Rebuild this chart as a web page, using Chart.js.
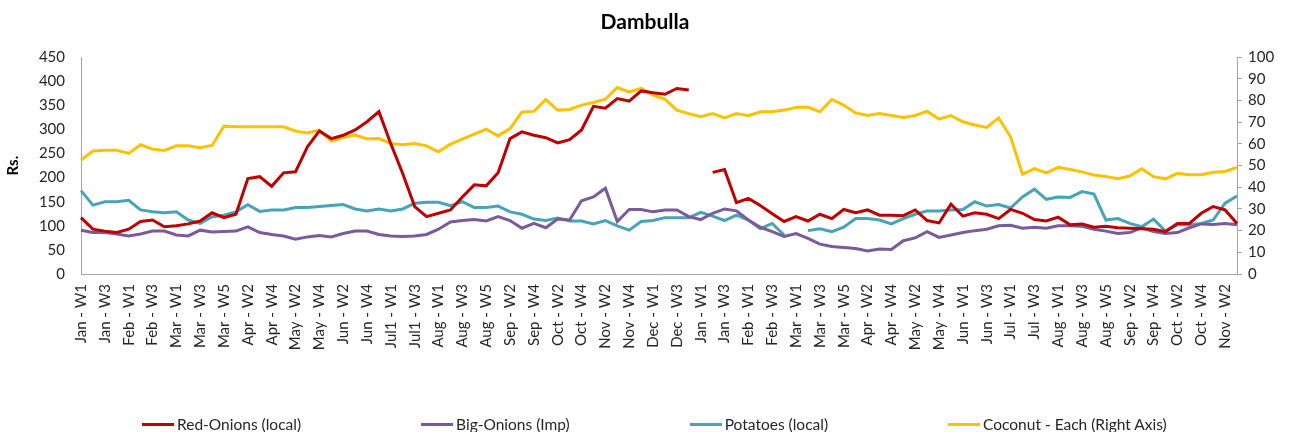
<!DOCTYPE html>
<html>
<head>
<meta charset="utf-8">
<script src="https://cdn.jsdelivr.net/npm/chart.js@4.4.1/dist/chart.umd.min.js"></script>
<style>
  html, body { margin: 0; padding: 0; background: #fff; }
  #wrap { position: relative; width: 1290px; height: 432px; }
  #legend {
    position: absolute; left: 0; top: 413px; width: 1290px; height: 22px;
    display: flex; align-items: center; gap: 120px; padding-left: 142px; box-sizing: border-box;
    font-family: Lato, "Open Sans", sans-serif; font-size: 15.5px; color: #262626;
  }
  #legend .item { display: flex; align-items: center; white-space: nowrap; }
  #legend .swatch { width: 32px; height: 3px; margin-right: 3px; }
</style>
</head>
<body>
<div id="wrap"><canvas id="chart"></canvas><div id="legend"></div></div>
<script>
const weekLabels = [
  'Jan - W1', 'Jan - W2', 'Jan - W3', 'Jan - W4',
  'Feb - W1', 'Feb - W2', 'Feb - W3', 'Feb - W4',
  'Mar - W1', 'Mar - W2', 'Mar - W3', 'Mar - W4', 'Mar - W5',
  'Apr - W1', 'Apr - W2', 'Apr - W3', 'Apr - W4',
  'May - W1', 'May - W2', 'May - W3', 'May - W4',
  'Jun - W1', 'Jun - W2', 'Jun - W3', 'Jun - W4', 'Jun - W5',
  'Jul1 - W1', 'Jul1 - W2', 'Jul1 - W3', 'Jul1 - W4',
  'Aug - W1', 'Aug - W2', 'Aug - W3', 'Aug - W4', 'Aug - W5',
  'Sep - W1', 'Sep - W2', 'Sep - W3', 'Sep - W4',
  'Oct - W1', 'Oct - W2', 'Oct - W3', 'Oct - W4',
  'Nov - W1', 'Nov - W2', 'Nov - W3', 'Nov - W4', 'Nov - W5',
  'Dec - W1', 'Dec - W2', 'Dec - W3', 'Dec - W4',
  'Jan - W1', 'Jan - W2', 'Jan - W3', 'Jan - W4',
  'Feb - W1', 'Feb - W2', 'Feb - W3', 'Feb - W4',
  'Mar - W1', 'Mar - W2', 'Mar - W3', 'Mar - W4', 'Mar - W5',
  'Apr - W1', 'Apr - W2', 'Apr - W3', 'Apr - W4',
  'May - W1', 'May - W2', 'May - W3', 'May - W4', 'May - W5',
  'Jun - W1', 'Jun - W2', 'Jun - W3', 'Jun - W4',
  'Jul - W1', 'Jul - W2', 'Jul - W3', 'Jul - W4',
  'Aug - W1', 'Aug - W2', 'Aug - W3', 'Aug - W4', 'Aug - W5',
  'Sep - W1', 'Sep - W2', 'Sep - W3', 'Sep - W4',
  'Oct - W1', 'Oct - W2', 'Oct - W3', 'Oct - W4',
  'Nov - W1', 'Nov - W2', 'Nov - W3'
];

// Rs. (left axis)
const redOnions = [
  117, 93, 89, 86, 93, 109, 112, 98, 100, 104, 110, 127, 117, 124, 198, 202,
  182, 210, 212, 264, 297, 281, 288, 299, 316, 337, 270, 208, 140, 119, 126, 133,
  160, 185, 183, 210, 281, 295, 288, 283, 272, 279, 299, 348, 344, 364, 359, 380,
  376, 373, 385, 382, null, 211, 217, 148, 157, 142, 125, 109, 119, 110, 124, 115,
  134, 127, 133, 122, 122, 121, 133, 111, 106, 145, 120, 127, 124, 115, 134, 126,
  113, 110, 118, 102, 104, 97, 99, 96, 95, 94, 93, 88, 105, 105, 126, 140,
  133, 105
];
const bigOnions = [
  91, 86, 86, 83, 79, 83, 89, 89, 81, 79, 91, 87, 88, 89, 98, 86,
  82, 79, 72, 77, 80, 77, 84, 89, 89, 82, 79, 78, 79, 82, 93, 108,
  111, 113, 110, 119, 111, 95, 105, 96, 114, 112, 152, 160, 178, 109, 134, 134,
  129, 133, 133, 119, 113, 126, 135, 131, 112, 97, 88, 78, 84, 74, 62, 57,
  55, 53, 48, 52, 51, 69, 75, 88, 76, 81, 86, 90, 93, 100, 101, 95,
  97, 95, 100, 100, 99, 93, 89, 84, 86, 96, 88, 84, 86, 96, 104, 103,
  105, 102
];
const potatoes = [
  173, 143, 150, 150, 153, 133, 129, 127, 129, 112, 105, 119, 122, 129, 144, 130,
  133, 133, 138, 138, 140, 142, 144, 135, 131, 135, 131, 135, 147, 149, 149, 142,
  150, 138, 138, 141, 129, 124, 114, 111, 116, 110, 110, 104, 111, 100, 91, 109,
  111, 117, 117, 117, 128, 120, 111, 122, 112, 94, 105, 81, null, 90, 94, 88,
  97, 115, 115, 112, 104, 115, 124, 131, 131, 133, 134, 150, 141, 144, 137, 160,
  176, 155, 160, 159, 171, 166, 112, 115, 105, 98, 114, 89, 102, 102, 105, 112,
  147, 162
];
// each (right axis)
const coconut = [
  52.5, 56.7, 57.1, 57.1, 55.6, 59.6, 57.6, 57.0, 59.1, 59.1, 58.2, 59.3, 68.2, 67.9, 67.9, 67.9,
  67.9, 67.9, 65.9, 65.1, 66.4, 61.3, 63.0, 64.1, 62.4, 62.5, 60.2, 59.6, 60.2, 59.1, 56.4, 59.9,
  62.2, 64.5, 66.8, 63.7, 67.1, 74.7, 75.0, 80.5, 75.6, 75.9, 77.9, 79.1, 80.6, 86.0, 84.0, 85.6,
  82.5, 80.6, 75.6, 74.0, 72.5, 74.0, 72.0, 74.0, 73.0, 74.8, 74.8, 75.6, 76.8, 77.0, 74.8, 80.5,
  77.9, 74.3, 73.1, 74.0, 73.1, 72.2, 73.1, 75.1, 71.4, 73.1, 70.2, 68.7, 67.6, 72.0, 63.3, 46.0,
  48.6, 46.6, 49.2, 48.2, 47.1, 45.6, 45.0, 44.0, 45.2, 48.5, 44.9, 43.9, 46.4, 45.8, 45.8, 46.9,
  47.3, 49.2
];

const FONT = 'Lato, "Open Sans", sans-serif';
const TXT = '#262626';
const AXIS = '#a6a6a6';

function line(label, data, color, axis) {
  return {
    label, data, yAxisID: axis,
    borderColor: color, backgroundColor: color,
    borderWidth: 3, pointRadius: 0, tension: 0, fill: false
  };
}

const chart = new Chart(document.getElementById('chart'), {
  type: 'line',
  data: {
    labels: weekLabels,
    datasets: [
      line('Red-Onions (local)', redOnions, '#C00000', 'y'),
      line('Big-Onions (Imp)', bigOnions, '#7B5A9B', 'y'),
      line('Potatoes (local)', potatoes, '#45A3BA', 'y'),
      line('Coconut - Each (Right Axis)', coconut, '#FFC000', 'y1')
    ]
  },
  options: {
    responsive: true,
    maintainAspectRatio: false,
    animation: false,
    layout: { padding: { left: 0, right: 0, top: 0, bottom: 78 } },
    plugins: {
      title: {
        display: true, text: 'Dambulla', color: '#000',
        font: { family: FONT, size: 21, weight: 'bold' },
        padding: { top: 10, bottom: 22 }
      },
      legend: { display: false },
      tooltip: { enabled: false }
    },
    scales: {
      x: {
        grid: { display: false, drawTicks: false },
        border: { color: AXIS },
        ticks: {
          autoSkip: false, maxRotation: 90, minRotation: 90, color: TXT,
          font: { family: FONT, size: 15 }, padding: 10,
          callback: (v, i) => (i % 2 === 0 ? weekLabels[i] : '')
        },
        afterFit: s => { s.height = 80; }
      },
      y: {
        position: 'left', min: 0, max: 450,
        grid: { display: false, drawTicks: false },
        border: { color: AXIS },
        ticks: { stepSize: 50, autoSkip: false, color: TXT, font: { family: FONT, size: 15 }, padding: 16 },
        title: { display: true, text: 'Rs.', color: '#000', font: { family: FONT, size: 15, weight: 'bold' } },
        afterFit: s => { s.width = 81; }
      },
      y1: {
        position: 'right', min: 0, max: 100,
        grid: { drawOnChartArea: false, tickLength: 5, color: AXIS },
        border: { color: AXIS },
        ticks: { stepSize: 10, autoSkip: false, color: TXT, font: { family: FONT, size: 15 }, padding: 6 },
        afterFit: s => { s.width = 53; }
      }
    }
  }
});

// legend below the plot, built from the chart's datasets
document.getElementById('legend').innerHTML = chart.data.datasets.map(ds =>
  '<div class="item"><span class="swatch" style="background:' + ds.borderColor + '"></span>' + ds.label + '</div>'
).join('');
</script>
</body>
</html>
